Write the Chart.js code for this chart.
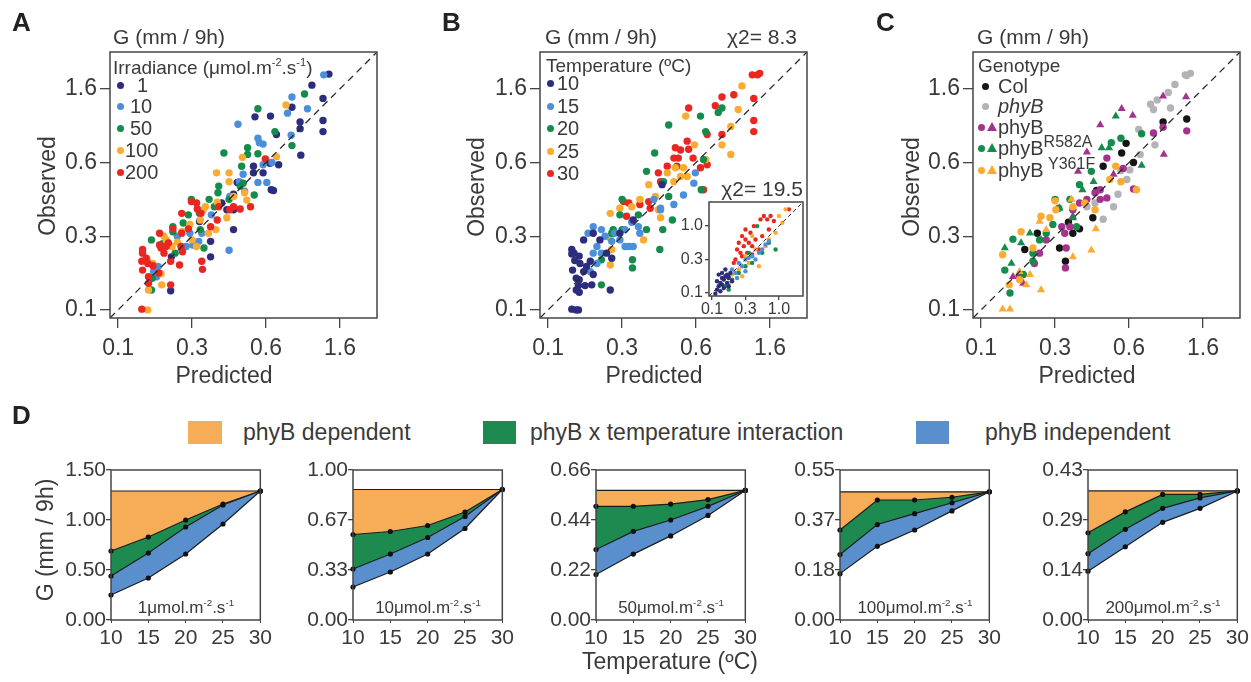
<!DOCTYPE html>
<html>
<head>
<meta charset="utf-8">
<script src="https://cdn.jsdelivr.net/npm/chart.js@4.4.0/dist/chart.umd.min.js"></script>
<style>
body { margin: 0; background: #fff; font-family: "Liberation Sans", Arial, sans-serif; color: #3a3a3a; }
#fig { position: relative; width: 1251px; height: 682px; overflow: hidden; }
canvas { position: absolute; }
.t { position: absolute; white-space: nowrap; line-height: 1; }
.t sup { font-size: 0.58em; vertical-align: 0; position: relative; top: -0.75em; }
.t sup.big { font-size: 0.8em; top: -0.5em; }
.mk { position: absolute; }
</style>
</head>
<body>
<div id="fig"></div>
<script>
// scatter axes use the transformed scale of the figure: tick 0 = 0.1, 1 = 0.3, 2 = 0.6, 3 = 1.6
var tickLabels = ['0.1', '0.3', '0.6', '1.6'];
var insetTickLabels = ['0.1', '0.3', '1.0'];

// A - irradiance series [predicted, observed]
var irr1 = [[0.71,0.26],[0.72,0.72],[1.25,0.72],[1.25,0.93],[1.56,1.09],[1.56,1.36],[1.47,1.36],[1.83,1.95],[1.83,1.86],[1.96,1.86],[2.05,1.99],[2.07,1.63],[2.10,1.62],[2.17,1.97],[2.06,2.63],[1.85,2.62],[2.14,2.38],[2.35,2.75],[2.47,2.10],[2.46,2.55],[2.46,2.46],[2.77,2.87],[2.62,3.05],[2.85,3.20],[2.77,2.57],[2.77,2.42],[1.56,1.57],[1.61,1.73],[1.10,1.20],[1.40,1.45]];
var irr10 = [[0.52,0.45],[0.54,0.59],[0.92,0.86],[0.97,1.04],[1.01,0.88],[1.09,0.93],[1.26,1.29],[1.50,0.81],[1.51,1.54],[1.62,2.52],[1.64,1.74],[1.71,1.61],[1.69,1.84],[1.89,2.33],[1.91,2.27],[1.96,2.25],[1.89,1.73],[2.01,1.73],[1.96,1.97],[2.08,2.00],[2.29,2.67],[2.35,2.89],[2.34,2.37],[2.56,2.73],[2.78,3.19],[1.13,1.04],[0.48,0.52],[0.80,1.00]];
var irr50 = [[0.45,0.95],[0.46,0.43],[0.45,0.27],[0.74,1.13],[0.74,1.06],[0.77,0.77],[0.95,1.29],[0.99,1.50],[1.11,1.09],[1.16,0.84],[1.23,1.50],[1.35,1.59],[1.36,1.68],[1.43,2.13],[1.50,1.50],[1.65,1.68],[1.67,1.95],[1.75,2.20],[1.75,2.11],[1.84,1.56],[1.89,2.12],[1.89,2.73],[2.12,2.42],[2.35,2.23],[2.52,2.93],[1.69,1.72],[1.10,1.31],[0.60,0.90],[0.88,1.18],[1.30,1.40]];
var irr100 = [[0.40,0.00],[0.40,0.66],[0.41,0.27],[0.59,0.34],[0.58,0.49],[0.65,0.95],[0.73,0.86],[0.86,1.06],[0.97,1.16],[1.06,0.86],[1.11,1.22],[1.22,1.04],[1.32,1.09],[1.33,1.86],[1.50,1.86],[1.50,1.74],[1.34,1.46],[1.47,1.25],[1.56,1.54],[1.68,2.07],[1.74,1.49],[2.14,2.08],[2.27,2.78],[1.15,1.36],[1.71,1.59],[0.47,0.63],[0.62,1.00],[0.80,0.92],[1.00,0.95],[1.18,1.40]];
var irr200 = [[0.32,0.01],[0.33,0.82],[0.33,0.77],[0.32,0.66],[0.33,0.54],[0.40,0.63],[0.41,0.45],[0.41,0.36],[0.56,1.04],[0.56,0.88],[0.58,0.84],[0.55,0.50],[0.71,0.66],[0.71,0.34],[0.68,0.91],[0.86,1.31],[0.86,1.04],[0.85,0.86],[0.87,0.79],[0.83,0.61],[0.99,1.47],[1.06,1.45],[1.07,1.37],[1.12,1.31],[1.13,0.66],[1.14,0.55],[1.25,1.13],[1.34,1.22],[1.36,1.40],[1.51,1.36],[1.56,1.40],[1.65,1.37],[1.79,1.40],[1.99,2.05],[0.74,1.10],[0.65,0.86],[0.38,0.70],[0.47,0.60],[0.62,0.77],[0.95,1.10]];
var irrLabels = ['1', '10', '50', '100', '200'];

// B - temperature series
var temp10 = [[0.32,0.82],[0.32,0.76],[0.33,0.54],[0.32,0.01],[0.38,0.00],[0.41,0.00],[0.36,0.67],[0.43,0.63],[0.48,0.95],[0.38,0.43],[0.42,0.41],[0.41,0.33],[0.42,0.24],[0.38,0.27],[0.50,0.33],[0.59,0.34],[0.52,0.59],[0.61,0.48],[0.57,0.66],[0.70,0.95],[0.84,0.27],[0.79,0.77],[0.86,0.70],[0.42,0.73],[0.35,0.77],[0.48,0.52],[0.61,1.04],[0.97,1.04],[1.15,1.22],[1.54,1.70]];
var temp15 = [[0.54,1.04],[0.61,1.13],[0.72,1.09],[0.77,1.00],[0.66,0.86],[0.61,0.77],[0.66,0.63],[0.72,0.77],[0.90,1.04],[0.97,0.95],[1.04,0.86],[1.09,0.86],[1.15,0.86],[1.24,1.04],[1.13,1.19],[1.22,1.13],[1.43,1.50],[1.52,1.38],[1.52,1.36],[1.70,1.43],[1.83,1.56],[1.97,1.72],[1.99,1.86],[1.04,1.09],[0.86,0.93],[0.57,0.52]];
var temp20 = [[0.72,0.68],[0.72,0.34],[0.86,1.04],[0.88,1.09],[1.00,1.50],[0.97,1.29],[1.14,0.68],[1.14,0.57],[1.33,1.09],[1.33,1.88],[1.44,2.13],[1.51,0.82],[1.55,1.09],[1.56,1.74],[1.63,1.54],[1.68,1.22],[1.63,2.51],[2.06,2.63],[2.10,2.04],[2.13,2.42],[2.07,1.63],[2.30,2.68],[2.35,2.74],[1.00,1.09],[1.22,1.29]];
var temp25 = [[0.84,1.31],[0.84,0.97],[0.84,0.61],[0.86,0.82],[1.13,1.40],[1.24,1.50],[1.29,0.95],[1.36,1.70],[1.45,1.54],[1.49,1.36],[1.52,1.25],[1.70,1.74],[1.72,1.93],[1.79,1.81],[1.83,1.93],[1.86,2.63],[1.98,2.24],[2.13,2.04],[2.35,2.24],[2.47,2.49],[2.47,2.11],[2.57,2.72],[2.62,3.04],[1.88,1.81],[1.61,1.86],[0.97,1.38]];
var temp30 = [[1.02,1.47],[1.09,1.45],[1.06,1.27],[1.24,1.43],[1.36,1.47],[1.38,1.38],[1.49,1.86],[1.52,1.74],[1.61,1.95],[1.70,2.06],[1.72,2.20],[1.76,2.06],[1.88,2.29],[1.90,2.18],[1.90,2.74],[1.96,2.06],[2.10,1.63],[2.06,1.93],[2.15,1.97],[2.15,2.38],[2.26,2.77],[2.35,2.89],[2.35,2.38],[2.51,2.92],[2.76,3.19],[2.83,3.19],[2.86,3.21],[2.78,2.87],[2.78,2.57],[2.78,2.42],[1.74,1.95],[1.79,2.17]];
var tempLabels = ['10', '15', '20', '25', '30'];

// B inset (tick 0 = 0.1, 1 = 0.3, 2 = 1.0)
var inset10 = [[0.15,0.10],[0.20,0.20],[0.25,0.30],[0.30,0.45],[0.35,0.40],[0.20,0.55],[0.30,0.60],[0.40,0.50],[0.45,0.30],[0.50,0.45],[0.35,0.15],[0.25,0.05],[0.55,0.60],[0.40,0.70],[0.60,0.35],[0.15,0.35],[0.45,0.55],[0.30,0.25],[0.10,-0.02],[0.50,0.20]];
var inset15 = [[0.50,0.50],[0.60,0.70],[0.70,0.60],[0.80,0.90],[0.90,0.80],[1.00,1.00],[1.10,1.05],[1.20,1.10],[1.30,1.00],[1.40,1.20],[1.50,1.30],[1.60,1.45],[1.70,1.55],[0.75,0.45],[1.00,0.65]];
var inset20 = [[0.40,0.20],[0.60,0.40],[0.80,0.60],[1.10,1.20],[1.20,0.90],[1.35,2.00],[1.50,1.20],[1.70,1.50],[1.90,1.30],[1.00,0.80],[0.50,0.10]];
var inset25 = [[0.50,0.30],[0.60,0.55],[0.80,0.70],[1.00,1.10],[1.10,0.90],[1.30,1.30],[1.40,0.80],[1.60,1.40],[1.70,1.60],[1.90,1.80],[2.00,2.30],[2.10,2.10],[2.20,2.50],[1.20,1.70],[0.90,0.50]];
var inset30 = [[0.70,1.00],[0.75,1.30],[0.80,1.50],[0.85,1.20],[0.90,1.70],[0.95,1.40],[1.00,1.90],[1.00,1.60],[1.05,1.20],[1.10,1.50],[1.15,1.80],[1.20,1.40],[1.25,2.00],[1.30,1.60],[0.90,1.10],[1.40,1.30],[1.45,2.20],[1.55,2.30],[1.65,2.20],[1.75,2.30],[1.85,2.15],[1.70,1.90],[0.65,0.90],[1.50,1.70],[1.20,1.15],[2.30,2.50]];

// C - genotype series
var colPts = [[0.59,0.82],[0.76,1.04],[1.06,0.84],[1.14,0.66],[1.18,1.19],[1.33,1.10],[1.51,1.25],[1.56,1.62],[1.65,1.95],[1.96,2.26],[2.06,2.00],[2.46,2.55],[2.78,2.59],[1.90,2.13],[1.24,1.04]];
var phyBMutPts = [[2.76,3.19],[2.83,3.21],[2.78,3.18],[2.62,3.06],[2.53,2.95],[2.38,2.85],[2.29,2.79],[2.33,2.72],[2.56,2.74],[2.13,2.45],[2.35,2.24],[2.15,2.11],[2.01,1.90],[1.89,1.89],[1.97,1.77],[1.85,1.57],[1.79,1.40],[1.65,1.23],[1.43,1.40],[1.54,1.45]];
var phyBCirc = [[2.78,2.43],[2.46,2.48],[2.33,2.40],[2.06,1.64],[1.92,1.92],[1.70,2.06],[1.61,1.63],[1.54,1.59],[1.61,1.50],[1.70,1.52],[1.43,1.50],[1.33,1.45],[1.24,1.36],[1.20,1.13],[1.09,1.13],[1.13,1.04],[1.15,0.84],[1.14,0.57],[0.88,0.95],[0.79,0.77],[0.52,0.45],[0.72,0.63]];
var phyBTri = [[2.77,2.89],[2.46,2.90],[2.05,2.64],[1.90,2.73],[1.61,2.51],[1.43,2.14],[1.31,1.88],[2.47,2.11],[1.79,1.84],[0.57,0.36],[0.43,0.45],[1.24,1.27]];
var r582aCirc = [[2.17,2.39],[1.89,2.33],[1.76,2.27],[1.49,1.88],[1.33,1.70],[1.20,1.50],[1.00,1.50],[1.05,1.38],[0.97,1.16],[0.88,1.04],[0.79,0.95],[0.70,0.77],[0.70,0.66],[0.43,0.96],[0.32,0.54],[0.39,0.23],[0.57,0.48],[1.29,1.13]];
var r582aTri = [[1.82,2.63],[1.73,2.20],[1.63,2.20],[1.52,1.74],[1.37,1.63],[2.17,1.96],[1.06,1.38],[0.66,1.04],[0.54,0.91],[0.32,0.84],[0.41,0.63],[0.81,0.95],[1.24,1.25]];
var y361fCirc = [[2.10,1.63],[1.82,1.95],[1.89,1.74],[1.54,1.36],[1.00,1.48],[1.01,1.36],[0.93,1.25],[0.81,1.27],[0.70,0.84],[0.54,1.06],[0.29,0.75],[0.38,0.34],[0.52,0.41],[1.24,1.40],[1.40,1.45],[1.74,1.77]];
var y361fTri = [[0.29,0.01],[0.39,0.01],[0.66,0.48],[0.61,0.34],[0.81,0.27],[1.49,0.81],[1.55,1.10],[1.24,0.72],[0.79,1.20],[1.22,1.50],[0.88,1.09],[0.52,0.52]];

// D - growth (mm / 9h) vs temperature, one panel per irradiance
var temps = [10, 15, 20, 25, 30];
var bottom1 = [0.25, 0.42, 0.66, 0.96, 1.29], middle1 = [0.44, 0.67, 0.93, 1.15, 1.29], upper1 = [0.69, 0.83, 1.00, 1.16, 1.29], top1 = [1.29, 1.29, 1.29, 1.29, 1.29];
var bottom2 = [0.22, 0.32, 0.44, 0.61, 0.87], middle2 = [0.34, 0.44, 0.55, 0.69, 0.87], upper2 = [0.57, 0.59, 0.63, 0.72, 0.87], top2 = [0.87, 0.87, 0.87, 0.87, 0.87];
var bottom3 = [0.20, 0.29, 0.37, 0.46, 0.57], middle3 = [0.31, 0.39, 0.44, 0.50, 0.57], upper3 = [0.50, 0.50, 0.51, 0.53, 0.57], top3 = [0.57, 0.57, 0.57, 0.57, 0.57];
var bottom4 = [0.17, 0.27, 0.33, 0.40, 0.47], middle4 = [0.24, 0.35, 0.39, 0.43, 0.47], upper4 = [0.33, 0.44, 0.44, 0.45, 0.47], top4 = [0.47, 0.47, 0.47, 0.47, 0.47];
var bottom5 = [0.14, 0.21, 0.28, 0.32, 0.37], middle5 = [0.19, 0.26, 0.32, 0.35, 0.37], upper5 = [0.25, 0.31, 0.36, 0.36, 0.37], top5 = [0.37, 0.37, 0.37, 0.37, 0.37];
var dTicks = [
    ['0.00', '0.50', '1.00', '1.50'],
    ['0.00', '0.33', '0.67', '1.00'],
    ['0.00', '0.22', '0.44', '0.66'],
    ['0.00', '0.18', '0.37', '0.55'],
    ['0.00', '0.14', '0.29', '0.43']
];
var dMax = [1.5, 1.0, 0.66, 0.55, 0.43];
var dIrr = ['1', '10', '50', '100', '200'];

// cores
var navy = '#2c2d7c', lightBlue = '#4b8fdb', green = '#168c4c', orange = '#fbab30', red = '#ea2620';
var purple = '#a3338d', gray = '#b2b2b7', black = '#151515';
var dOrange = '#f7ad57', dGreen = '#1d8b50', dBlue = '#5a8fcd';

Chart.defaults.font.family = '"Liberation Sans", Arial, sans-serif';
Chart.defaults.color = '#3a3a3a';
Chart.defaults.animation = false;
Chart.defaults.plugins.legend.display = false;
Chart.defaults.plugins.tooltip.enabled = false;

// frame around the plot area (and white background for the inset)
Chart.register({
    id: 'box',
    beforeDraw: function(chart, args, opts) {
        var a = chart.chartArea;
        if (opts.fill) {
            chart.ctx.save();
            chart.ctx.fillStyle = opts.fill;
            chart.ctx.fillRect(a.left, a.top, a.right - a.left, a.bottom - a.top);
            chart.ctx.restore();
        }
    },
    afterDraw: function(chart) {
        var a = chart.chartArea, ctx = chart.ctx;
        ctx.save();
        ctx.strokeStyle = '#454545';
        ctx.lineWidth = 1.5;
        ctx.strokeRect(a.left, a.top, a.right - a.left, a.bottom - a.top);
        ctx.restore();
    }
});

var fig = document.getElementById('fig');

function addCanvas(left, top, w, h) {
    var c = document.createElement('canvas');
    c.width = w;
    c.height = h;
    c.style.left = left + 'px';
    c.style.top = top + 'px';
    c.style.width = w + 'px';
    c.style.height = h + 'px';
    fig.appendChild(c);
    return c.getContext('2d');
}

function addText(html, x, y, size, opts) {
    opts = opts || {};
    var d = document.createElement('div');
    d.className = 't';
    d.innerHTML = html;
    d.style.fontSize = size + 'px';
    d.style.left = x + 'px';
    d.style.top = y + 'px';
    var tx = opts.align == 'center' || opts.rotate ? '-50%' : opts.align == 'right' ? '-100%' : '0';
    d.style.transform = 'translate(' + tx + ',-50%)' + (opts.rotate ? ' rotate(-90deg)' : '');
    if (opts.bold) d.style.fontWeight = 'bold';
    if (opts.italic) d.style.fontStyle = 'italic';
    if (opts.family) d.style.fontFamily = opts.family;
    if (opts.color) d.style.color = opts.color;
    fig.appendChild(d);
}

function addMark(x, y, color, shape) {
    var d = document.createElement('div');
    d.className = 'mk';
    d.style.background = color;
    if (shape == 'triangle') {
        d.style.width = '10px';
        d.style.height = '9px';
        d.style.left = (x - 5) + 'px';
        d.style.top = (y - 5) + 'px';
        d.style.clipPath = 'polygon(50% 0, 100% 100%, 0 100%)';
    } else {
        d.style.width = '7px';
        d.style.height = '7px';
        d.style.left = (x - 3.5) + 'px';
        d.style.top = (y - 3.5) + 'px';
        d.style.borderRadius = '50%';
    }
    fig.appendChild(d);
}

function addSquare(x, y, w, h, color) {
    var d = document.createElement('div');
    d.className = 'mk';
    d.style.left = x + 'px';
    d.style.top = y + 'px';
    d.style.width = w + 'px';
    d.style.height = h + 'px';
    d.style.background = color;
    fig.appendChild(d);
}

function toPoints(list) {
    return list.map(function(p) { return {x: p[0], y: p[1]}; });
}

function scatterChart(ctx, sets, opt) {
    var datasets = [{
        data: [{x: opt.min, y: opt.min}, {x: opt.max, y: opt.max}],
        showLine: true,
        borderColor: '#2a2a2a',
        borderWidth: opt.lineWidth,
        borderDash: opt.dash,
        pointRadius: 0,
        order: 0
    }];
    sets.forEach(function(s) {
        datasets.push({
            data: toPoints(s.data),
            backgroundColor: s.color,
            borderWidth: 0,
            pointStyle: s.shape || 'circle',
            pointRadius: s.shape == 'triangle' ? opt.r + 1 : opt.r,
            order: 1
        });
    });
    function axis(isX) {
        return {
            type: 'linear',
            min: opt.min,
            max: opt.max,
            afterBuildTicks: function(scale) {
                scale.ticks = opt.labels.map(function(l, i) { return {value: i}; });
            },
            afterFit: function(scale) {
                if (isX) scale.height = opt.xh; else scale.width = opt.yw;
            },
            ticks: {
                autoSkip: false,
                maxRotation: 0,
                font: {size: opt.font},
                color: '#3a3a3a',
                padding: isX ? opt.xpad : opt.ypad,
                callback: function(v) { return opt.labels[v]; }
            },
            grid: {drawOnChartArea: false, tickLength: opt.tick, color: '#454545', lineWidth: 1.3},
            border: {display: false}
        };
    }
    return new Chart(ctx, {
        type: 'scatter',
        data: {datasets: datasets},
        options: {
            responsive: false,
            layout: {padding: {top: opt.top, right: opt.right, left: 0, bottom: 0}},
            scales: {x: axis(true), y: axis(false)},
            plugins: {box: {fill: opt.fill}}
        }
    });
}

function growthChart(ctx, bottom, middle, upper, top, yMax, labels) {
    var line = {borderColor: '#1c1c1c', borderWidth: 1.2, pointRadius: 2.6, pointBackgroundColor: '#111', pointBorderWidth: 0, tension: 0};
    return new Chart(ctx, {
        type: 'line',
        data: {
            labels: temps,
            datasets: [
                Object.assign({data: bottom, fill: false}, line),
                Object.assign({data: middle, fill: '-1', backgroundColor: dBlue}, line),
                Object.assign({data: upper, fill: '-1', backgroundColor: dGreen}, line),
                Object.assign({data: top, fill: '-1', backgroundColor: dOrange}, line, {pointRadius: 0})
            ]
        },
        options: {
            responsive: false,
            layout: {padding: {top: 14, right: 14, left: 0, bottom: 0}},
            scales: {
                x: {
                    afterFit: function(scale) { scale.height = 40; },
                    ticks: {autoSkip: false, maxRotation: 0, font: {size: 21}, color: '#3a3a3a', padding: 3},
                    grid: {drawOnChartArea: false, tickLength: 3, color: '#454545'},
                    border: {display: false}
                },
                y: {
                    type: 'linear',
                    min: 0,
                    max: yMax,
                    afterBuildTicks: function(scale) {
                        scale.ticks = labels.map(function(l, i) { return {value: yMax * i / 3}; });
                    },
                    afterFit: function(scale) { scale.width = 75; },
                    ticks: {
                        autoSkip: false,
                        font: {size: 21},
                        color: '#3a3a3a',
                        padding: 0,
                        callback: function(v, i) { return labels[i]; }
                    },
                    grid: {drawOnChartArea: false, tickLength: 5, color: '#454545', lineWidth: 1.3},
                    border: {display: false}
                }
            }
        }
    });
}

// PAINEIS A, B, C
var mainOpt = {min: -0.11, max: 3.5, labels: tickLabels, r: 3.7, font: 23, tick: 10, xpad: 7, ypad: 3,
    xh: 72, yw: 90, top: 52, right: 20, dash: [7, 5], lineWidth: 1.3};

scatterChart(addCanvas(20, 0, 377, 390), [
    {data: irr200, color: red}, {data: irr100, color: orange}, {data: irr50, color: green},
    {data: irr10, color: lightBlue}, {data: irr1, color: navy}
], mainOpt);

scatterChart(addCanvas(450, 0, 377, 390), [
    {data: temp10, color: navy}, {data: temp15, color: lightBlue}, {data: temp20, color: green},
    {data: temp25, color: orange}, {data: temp30, color: red}
], mainOpt);

scatterChart(addCanvas(883, 0, 377, 390), [
    {data: y361fTri, color: orange, shape: 'triangle'}, {data: y361fCirc, color: orange},
    {data: r582aTri, color: green, shape: 'triangle'}, {data: r582aCirc, color: green},
    {data: phyBTri, color: purple, shape: 'triangle'}, {data: phyBCirc, color: purple},
    {data: phyBMutPts, color: gray}, {data: colPts, color: black}
], mainOpt);

// inset of B
scatterChart(addCanvas(669, 190, 144, 134), [
    {data: inset10, color: navy}, {data: inset15, color: lightBlue}, {data: inset20, color: green},
    {data: inset25, color: orange}, {data: inset30, color: red}
], {min: -0.09, max: 2.72, labels: insetTickLabels, r: 2.2, font: 16, tick: 4, xpad: 0, ypad: 2,
    xh: 28, yw: 40, top: 12, right: 10, dash: [4, 3], lineWidth: 1, fill: '#fff'});

// PAINEL D
var dLefts = [111, 353, 596, 840, 1088];
var dBottoms = [bottom1, bottom2, bottom3, bottom4, bottom5];
var dMiddles = [middle1, middle2, middle3, middle4, middle5];
var dUppers = [upper1, upper2, upper3, upper4, upper5];
var dTops = [top1, top2, top3, top4, top5];
dLefts.forEach(function(left, i) {
    growthChart(addCanvas(left - 75, 456, 239, 204), dBottoms[i], dMiddles[i], dUppers[i], dTops[i], dMax[i], dTicks[i]);
    addText(dIrr[i] + 'μmol.m<sup>-2</sup>.s<sup>-1</sup>', left + 75, 607, 17, {align: 'center'});
});

// TEXTOS
var letterFont = '"Liberation Sans Narrow", "Liberation Sans", Arial, sans-serif';
addText('A', 12, 22, 26, {bold: true, family: letterFont, color: '#222'});
addText('B', 442, 22, 26, {bold: true, family: letterFont, color: '#222'});
addText('C', 876, 22, 26, {bold: true, family: letterFont, color: '#222'});
addText('D', 12, 415, 26, {bold: true, family: letterFont, color: '#222'});

addText('G (mm / 9h)', 113, 36, 21);
addText('G (mm / 9h)', 545, 36, 21);
addText('G (mm / 9h)', 977, 36, 21);
addText('χ2= 8.3', 797, 36, 21, {align: 'right'});
addText('χ2= 19.5', 803, 188, 21, {align: 'right'});

addText('Observed', 47, 186, 23, {rotate: true});
addText('Observed', 476, 187, 23, {rotate: true});
addText('Observed', 911, 187, 23, {rotate: true});
addText('Predicted', 224, 375, 23, {align: 'center'});
addText('Predicted', 654, 375, 23, {align: 'center'});
addText('Predicted', 1087, 375, 23, {align: 'center'});

// legend A
var legendY = [85, 106, 128, 150, 172];
var irrColors = [navy, lightBlue, green, orange, red];
addText('Irradiance (μmol.m<sup>-2</sup>.s<sup>-1</sup>)', 113, 67, 19);
irrLabels.forEach(function(l, i) {
    addMark(120, legendY[i], irrColors[i]);
    addText(l, l.length > 2 ? 125 : (l.length > 1 ? 130 : 137), legendY[i], 20);
});

// legend B
var tempY = [83, 106, 128, 151, 173];
addText('Temperature (ºC)', 546, 65, 19);
tempLabels.forEach(function(l, i) {
    addMark(550, tempY[i], irrColors[i]);
    addText(l, 557, tempY[i], 20);
});

// legend C
addText('Genotype', 978, 65, 19);
addMark(985, 86, black);
addText('Col', 998, 86, 20);
addMark(985, 106, gray);
addText('phyB', 998, 106, 20, {italic: true});
addMark(981, 127, purple);
addMark(992, 127, purple, 'triangle');
addText('phyB', 998, 127, 20);
addMark(981, 148, green);
addMark(992, 148, green, 'triangle');
addText('phyB<sup class="big">R582A</sup>', 998, 148, 20);
addMark(981, 170, orange);
addMark(992, 170, orange, 'triangle');
addText('phyB<sup class="big">&nbsp;Y361F</sup>', 998, 170, 20);

// legend D
addSquare(188, 421, 34, 23, dOrange);
addText('phyB dependent', 243, 432, 23);
addSquare(483, 421, 33, 23, dGreen);
addText('phyB x temperature interaction', 530, 432, 23);
addSquare(916, 421, 33, 23, dBlue);
addText('phyB independent', 985, 432, 23);

addText('G (mm / 9h)', 45, 540, 23, {rotate: true});
addText('Temperature (ºC)', 670, 661, 23, {align: 'center'});
</script>
</body>
</html>
